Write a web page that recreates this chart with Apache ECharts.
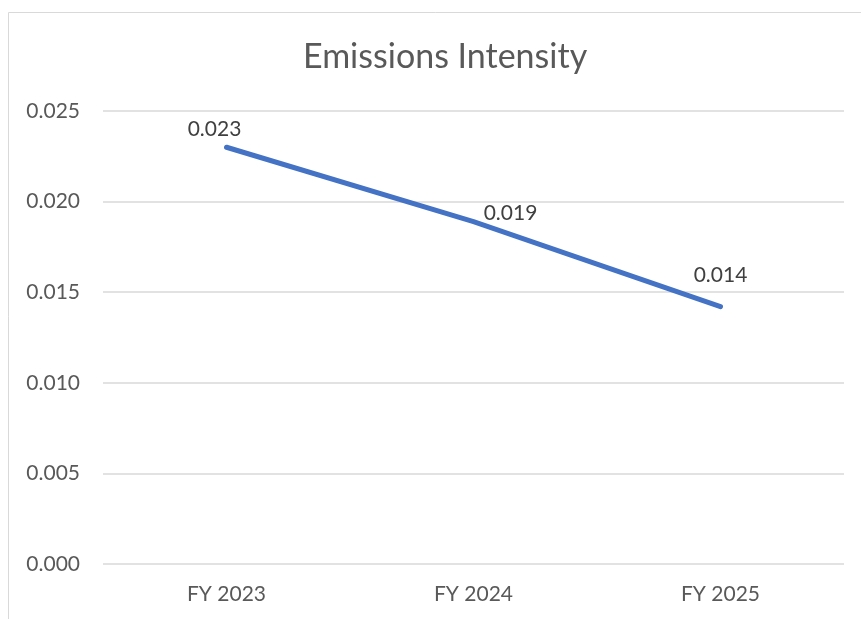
<!DOCTYPE html>
<html>
<head>
<meta charset="utf-8">
<script src="https://cdn.jsdelivr.net/npm/echarts@6/dist/echarts.min.js"></script>
<style>
  html, body { margin: 0; padding: 0; background: #ffffff; }
  #chart { width: 861px; height: 619px; }
</style>
</head>
<body>
<div id="chart"></div>
<script>
// Emissions intensity by fiscal year
const categories = ['FY 2023', 'FY 2024', 'FY 2025'];
const intensity = [0.0230, 0.0189, 0.0142];
const yTicks = { min: 0, max: 0.025, interval: 0.005 };

// Per-point nudges for the value labels
const labelOffsets = [[-12, -2], [37, 8], [0, -15]];

const FONT = 'Lato, "Open Sans", sans-serif';
const TEXT = '#595959';

const chart = echarts.init(document.getElementById('chart'), null, { renderer: 'canvas' });

chart.setOption({
  animation: false,
  backgroundColor: '#ffffff',
  title: {
    text: 'Emissions Intensity',
    left: 298,
    top: 35,
    textStyle: { fontFamily: FONT, fontSize: 34, fontWeight: 'normal', color: TEXT }
  },
  graphic: [{
    type: 'rect',
    shape: { x: 8.5, y: 12.5, width: 900, height: 700 },
    style: { fill: 'none', stroke: '#d9d9d9', lineWidth: 1 },
    silent: true,
    z: -1
  }],
  grid: { left: 103, right: 17, top: 111, bottom: 55, containLabel: false },
  xAxis: {
    type: 'category',
    data: categories,
    boundaryGap: true,
    axisLine: { show: false },
    axisTick: { show: false },
    axisLabel: { fontFamily: FONT, fontSize: 21, color: TEXT, margin: 20 }
  },
  yAxis: {
    type: 'value',
    min: yTicks.min,
    max: yTicks.max,
    interval: yTicks.interval,
    axisLine: { show: false },
    axisTick: { show: false },
    axisLabel: {
      fontFamily: FONT, fontSize: 21, color: TEXT, margin: 23,
      formatter: v => v.toFixed(3)
    },
    splitLine: { lineStyle: { color: '#d9d9d9', width: 1.5 } }
  },
  series: [{
    type: 'line',
    data: intensity.map((v, i) => ({
      value: v,
      label: { offset: labelOffsets[i] }
    })),
    showSymbol: true,
    symbol: 'circle',
    symbolSize: 1,
    itemStyle: { color: 'rgba(0,0,0,0)', borderWidth: 0 },
    lineStyle: { color: '#4472C4', width: 5, cap: 'round', join: 'round' },
    label: {
      show: true,
      position: 'top',
      distance: 5,
      fontFamily: FONT,
      fontSize: 21,
      color: '#404040',
      formatter: p => p.value.toFixed(3)
    }
  }]
});
</script>
</body>
</html>
